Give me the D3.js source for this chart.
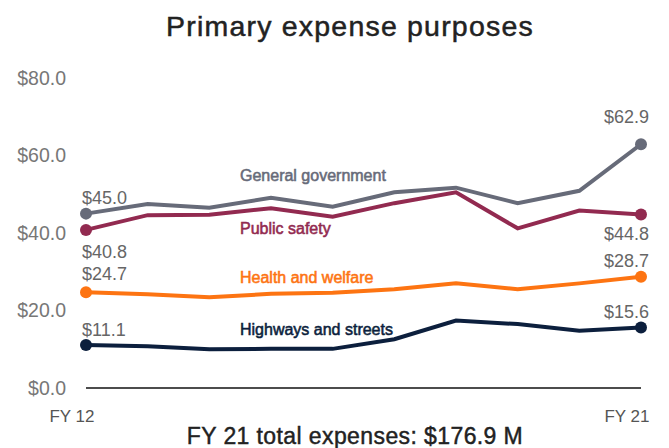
<!DOCTYPE html>
<html>
<head>
<meta charset="utf-8">
<script src="https://cdn.jsdelivr.net/npm/d3@7"></script>
<style>
  body { margin: 0; background: #fff; }
  svg { font-family: "Liberation Sans", Arial, Helvetica, sans-serif; }
</style>
</head>
<body>
<div id="chart"></div>
<script>
const years = ["FY 12", "FY 13", "FY 14", "FY 15", "FY 16", "FY 17", "FY 18", "FY 19", "FY 20", "FY 21"];
const generalGovernment = [45.0, 47.5, 46.5, 49.1, 46.8, 50.5, 51.7, 47.7, 50.9, 62.9];
const publicSafety = [40.8, 44.6, 44.7, 46.4, 44.2, 47.7, 50.5, 41.2, 45.8, 44.8];
const healthWelfare = [24.7, 24.2, 23.4, 24.3, 24.6, 25.5, 27.0, 25.5, 27.0, 28.7];
const highwaysStreets = [11.1, 10.8, 10.0, 10.1, 10.1, 12.6, 17.4, 16.5, 14.8, 15.6];
const yTicks = [0, 20, 40, 60, 80];

// name label sits at a value level; end labels get a vertical offset in px
const series = [
  { name: "General government", values: generalGovernment, color: "#676b79", labelAt: 53.4, firstDy: -10, lastDy: -21 },
  { name: "Public safety", values: publicSafety, color: "#922a50", labelAt: 39.7, firstDy: 28, lastDy: 26 },
  { name: "Health and welfare", values: healthWelfare, color: "#fd7412", labelAt: 27.1, firstDy: -12, lastDy: -10 },
  { name: "Highways and streets", values: highwaysStreets, color: "#0c1f3d", labelAt: 13.7, firstDy: -9, lastDy: -10 }
];

const width = 669, height = 448;
const svg = d3.select("#chart").append("svg")
  .attr("width", width)
  .attr("height", height);

const x = d3.scalePoint().domain(years).range([86, 641]);
const y = d3.scaleLinear().domain([0, 80]).range([388, 78]);

// title
svg.append("text")
  .attr("x", 350)
  .attr("y", 36)
  .attr("text-anchor", "middle")
  .attr("font-size", 28.5)
  .attr("letter-spacing", 1.2)
  .attr("fill", "#222")
  .attr("stroke", "#222")
  .attr("stroke-width", 0.5)
  .text("Primary expense purposes");

// y axis labels
svg.append("g")
  .selectAll("text")
  .data(yTicks)
  .enter()
  .append("text")
  .attr("x", 66)
  .attr("y", d => y(d))
  .attr("dy", "0.35em")
  .attr("text-anchor", "end")
  .attr("font-size", 19.5)
  .attr("fill", "#777")
  .text(d => "$" + d.toFixed(1));

// baseline
svg.append("line")
  .attr("x1", x(years[0]))
  .attr("x2", x(years[years.length - 1]))
  .attr("y1", y(0))
  .attr("y2", y(0))
  .attr("stroke", "#111")
  .attr("stroke-width", 1.5);

// x labels (first and last only)
svg.append("g")
  .selectAll("text")
  .data([years[0], years[years.length - 1]])
  .enter()
  .append("text")
  .attr("x", d => x(d) - 14)
  .attr("y", 422)
  .attr("text-anchor", "middle")
  .attr("font-size", 17)
  .attr("fill", "#555")
  .text(d => d);

const line = d3.line()
  .x((d, i) => x(years[i]))
  .y(d => y(d));

series.forEach(function (s) {
  svg.append("path")
    .datum(s.values)
    .attr("fill", "none")
    .attr("stroke", s.color)
    .attr("stroke-width", 4)
    .attr("stroke-linejoin", "miter")
    .attr("d", line);

  const ends = [0, s.values.length - 1];
  svg.append("g")
    .selectAll("circle")
    .data(ends)
    .enter()
    .append("circle")
    .attr("cx", i => x(years[i]))
    .attr("cy", i => y(s.values[i]))
    .attr("r", 6)
    .attr("fill", s.color);

  // value labels
  svg.append("g")
    .selectAll("text")
    .data(ends)
    .enter()
    .append("text")
    .attr("x", i => i === 0 ? x(years[i]) - 4 : x(years[i]) + 8)
    .attr("y", i => y(s.values[i]) + (i === 0 ? s.firstDy : s.lastDy))
    .attr("text-anchor", i => i === 0 ? "start" : "end")
    .attr("font-size", 18)
    .attr("fill", "#666")
    .text(i => "$" + s.values[i].toFixed(1));

  // series label
  svg.append("text")
    .attr("x", 240)
    .attr("y", y(s.labelAt))
    .attr("font-size", 16)
    .attr("fill", s.color)
    .attr("stroke", s.color)
    .attr("stroke-width", 0.55)
    .text(s.name);
});

// footer
svg.append("text")
  .attr("x", 355)
  .attr("y", 444)
  .attr("text-anchor", "middle")
  .attr("font-size", 23)
  .attr("letter-spacing", 0.4)
  .attr("fill", "#222")
  .attr("stroke", "#222")
  .attr("stroke-width", 0.45)
  .text("FY 21 total expenses: $176.9 M");
</script>
</body>
</html>
